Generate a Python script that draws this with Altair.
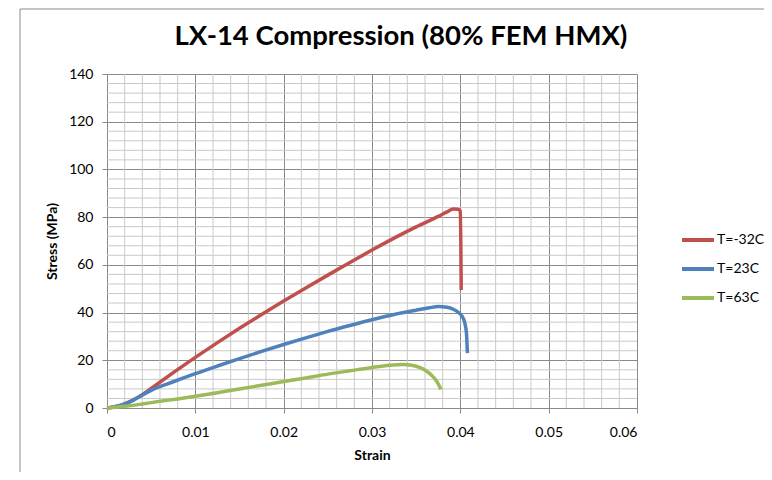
import altair as alt
import pandas as pd

# ---- data ----
red_strain = [0, 0.001, 0.002, 0.003, 0.004, 0.005, 0.0075, 0.01, 0.0125, 0.015, 0.0175,
              0.02, 0.0225, 0.025, 0.0275, 0.03, 0.0325, 0.035, 0.0375, 0.0385, 0.0392,
              0.0397, 0.0400, 0.0401]
red_stress = [0, 0.6, 1.7, 3.4, 5.6, 8.2, 14.8, 21.2, 27.4, 33.4, 39.2,
              44.8, 50.3, 55.7, 61.0, 66.2, 71.2, 75.9, 80.3, 82.2, 83.4,
              83.3, 82.6, 49.5]

blue_strain = [0, 0.001, 0.002, 0.003, 0.004, 0.005, 0.0075, 0.01, 0.0125, 0.015, 0.0175,
               0.02, 0.0225, 0.025, 0.0275, 0.03, 0.0325, 0.035, 0.0365, 0.0375, 0.0385,
               0.0392, 0.0398, 0.0402, 0.0405, 0.0407, 0.0408]
blue_stress = [0, 0.6, 1.7, 3.3, 5.4, 7.4, 11.0, 14.4, 17.6, 20.7, 23.7,
               26.6, 29.4, 32.1, 34.6, 37.0, 39.2, 41.0, 42.0, 42.5, 42.2,
               41.4, 40.0, 38.4, 35.8, 31.0, 23.0]

green_strain = [0, 0.002, 0.004, 0.006, 0.008, 0.01, 0.0125, 0.015, 0.0175, 0.02, 0.0225,
                0.025, 0.0275, 0.03, 0.032, 0.0335, 0.0345, 0.0355, 0.0362, 0.0368,
                0.0373, 0.0378]
green_stress = [0, 0.7, 1.7, 2.8, 3.8, 4.9, 6.4, 8.0, 9.5, 11.1, 12.6,
                14.2, 15.6, 17.0, 17.9, 18.2, 17.9, 16.8, 15.4, 13.5,
                11.3, 7.8]

series_names = ["T=-32C", "T=23C", "T=63C"]
series_colors = ["#C0504D", "#4F81BD", "#9BBB59"]

x_ticks = [0, 0.01, 0.02, 0.03, 0.04, 0.05, 0.06]
y_ticks = [0, 20, 40, 60, 80, 100, 120, 140]
x_minor = [round(i * 0.002, 3) for i in range(31) if i % 5]
y_minor = [i * 4 for i in range(36) if i % 5]

rows = []
for name, xs, ys in zip(series_names,
                        [red_strain, blue_strain, green_strain],
                        [red_stress, blue_stress, green_stress]):
    for i, (x, y) in enumerate(zip(xs, ys)):
        rows.append({"series": name, "strain": x, "stress": y, "idx": i})
df = pd.DataFrame(rows)

FONT = "Lato"
W, H = 530, 334
PAD = {"left": 99, "top": 66, "right": 127, "bottom": 64}

xscale = alt.Scale(domain=[0, 0.06], nice=False, zero=False)
yscale = alt.Scale(domain=[0, 140], nice=False, zero=False)

common_axis = dict(grid=True, gridColor="#8a8a8a", domainColor="#8a8a8a",
                   tickColor="#8a8a8a", tickSize=5, labelFont=FONT, labelFontSize=14,
                   labelColor="#000", titleFont=FONT, titleFontSize=14,
                   titleFontWeight="bold", titleColor="#000")
x_axis = alt.Axis(values=x_ticks, format="~g", labelPadding=12, titlePadding=9, **common_axis)
y_axis = alt.Axis(values=y_ticks, format="d", labelPadding=9, titlePadding=9, **common_axis)

minor_x = alt.Chart(pd.DataFrame({"v": x_minor})).mark_rule(
    color="#c9c9c9", strokeWidth=1).encode(
    x=alt.X("v:Q", scale=xscale, title="Strain", axis=x_axis))
minor_y = alt.Chart(pd.DataFrame({"v": y_minor})).mark_rule(
    color="#c9c9c9", strokeWidth=1).encode(
    y=alt.Y("v:Q", scale=yscale, title="Stress (MPa)", axis=y_axis))

lines = alt.Chart(df).mark_line(strokeWidth=3.5, interpolate="monotone").encode(
    x=alt.X("strain:Q", scale=xscale, title="Strain", axis=x_axis),
    y=alt.Y("stress:Q", scale=yscale, title="Stress (MPa)", axis=y_axis),
    color=alt.Color("series:N",
                    scale=alt.Scale(domain=series_names, range=series_colors),
                    sort=series_names,
                    legend=alt.Legend(title=None, orient="none", legendX=573, legendY=158,
                                      symbolType="stroke", symbolSize=1024,
                                      symbolStrokeWidth=4, labelFont=FONT,
                                      labelFontSize=14, labelColor="#000",
                                      labelOffset=1, rowPadding=13, clipHeight=16,
                                      padding=0)),
    order=alt.Order("idx:Q"),
)

border_top = alt.Chart(pd.DataFrame({"a": [0]})).mark_rule(
    color="#8a8a8a", strokeWidth=1).encode(
    x=alt.value(-87), x2=alt.value(W + PAD["right"]), y=alt.value(-65))
border_left = alt.Chart(pd.DataFrame({"a": [0]})).mark_rule(
    color="#8a8a8a", strokeWidth=1).encode(
    y=alt.value(-65), y2=alt.value(H + PAD["bottom"]), x=alt.value(-87))

chart = alt.layer(minor_x, minor_y, lines, border_top, border_left).properties(
    width=W, height=H,
    title=alt.TitleParams("LX-14 Compression (80% FEM HMX)", font=FONT, fontSize=27.5,
                          fontWeight="bold", color="#000", anchor="middle", frame="group",
                          dx=29, offset=0, baseline="alphabetic", dy=64),
    autosize=alt.AutoSizeParams(type="none"),
    padding=PAD,
).configure_view(stroke=None).configure(background="white")

chart.save("out.html", embed_options={"renderer": "svg", "actions": False})
